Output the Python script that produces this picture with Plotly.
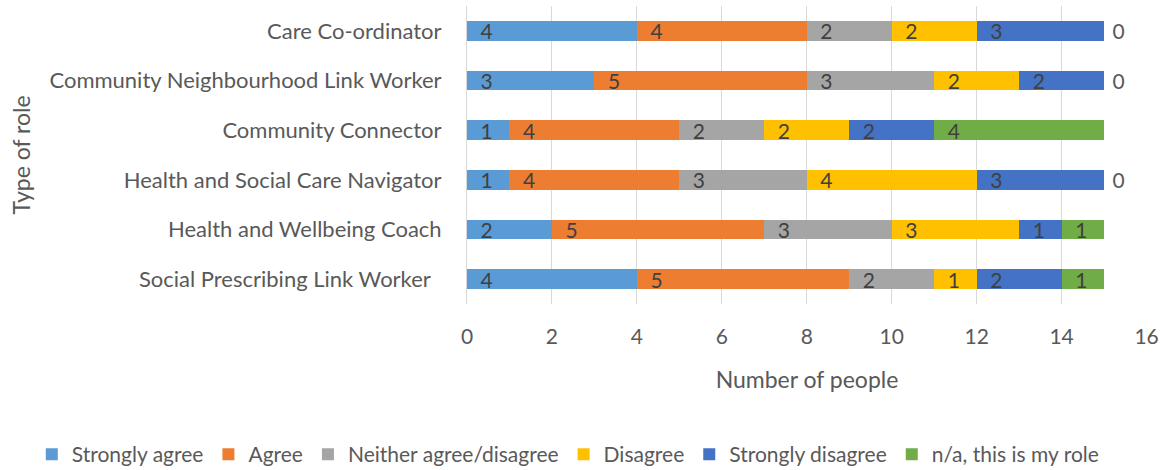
import plotly.graph_objects as go

roles = [
    "Care Co-ordinator",
    "Community Neighbourhood Link Worker",
    "Community Connector",
    "Health and Social Care Navigator",
    "Health and Wellbeing Coach",
    "Social Prescribing Link Worker\u00a0\u00a0",
]
strongly_agree = [4, 3, 1, 1, 2, 4]
agree = [4, 5, 4, 4, 5, 5]
neither = [2, 3, 2, 3, 3, 2]
disagree = [2, 2, 2, 4, 3, 1]
strongly_disagree = [3, 2, 2, 3, 1, 2]
na_my_role = [0, 0, 4, 0, 1, 1]

series = [
    ("Strongly agree", strongly_agree, "#5B9BD5"),
    ("Agree", agree, "#ED7D31"),
    ("Neither agree/disagree", neither, "#A5A5A5"),
    ("Disagree", disagree, "#FFC000"),
    ("Strongly disagree", strongly_disagree, "#4472C4"),
    ("n/a, this is my role", na_my_role, "#70AD47"),
]

FONT = "Lato"
fig = go.Figure()
for name, vals, color in series:
    pos = ["inside" if v > 0 else "outside" for v in vals]
    tmpl = ["\u2002%{x}" if v > 0 else "\u00a0%{x}" for v in vals]
    fig.add_trace(go.Bar(
        y=roles, x=vals, name=name, orientation="h",
        marker=dict(color=color, line=dict(width=0)),
        texttemplate=tmpl, textposition=pos,
        insidetextanchor="start", textangle=0,
        textfont=dict(family=FONT, size=21, color="#404040"),
        outsidetextfont=dict(family=FONT, size=21, color="#595959"),
        constraintext="none", cliponaxis=False,
        hoverinfo="x+y+name",
    ))

fig.update_layout(
    barmode="stack",
    bargap=0.6,
    width=1163, height=470,
    margin=dict(l=467, r=16, t=6, b=166, autoexpand=False),
    plot_bgcolor="white", paper_bgcolor="white",
    font=dict(family=FONT, color="#595959"),
    xaxis=dict(
        range=[0, 16.01], dtick=2, tick0=0, automargin=False,
        showgrid=True, gridcolor="#D9D9D9", gridwidth=1,
        zeroline=False, showline=False,
        tickfont=dict(family=FONT, size=21, color="#595959"),
        ticklabelstandoff=18, ticklabeloverflow="allow",
        title=dict(text="Number of people", font=dict(family=FONT, size=23, color="#595959"), standoff=24),
    ),
    yaxis=dict(
        categoryorder="array", categoryarray=roles,
        autorange="reversed", automargin=False,
        showgrid=False, zeroline=False,
        showline=True, linecolor="#D9D9D9", linewidth=1,
        tickfont=dict(family=FONT, size=22, color="#595959"),
        ticklabelstandoff=20,
        title=dict(text="Type of role", font=dict(family=FONT, size=23, color="#595959"), standoff=12),
    ),
    legend=dict(
        orientation="h", xref="paper", yref="paper",
        x=-0.64, xanchor="left", y=-0.505, yanchor="middle",
        font=dict(family=FONT, size=21, color="#595959"),
        traceorder="normal", itemwidth=30,
    ),
    showlegend=True,
)

fig.write_html("out.html", config={"displayModeBar": False},
               post_script="document.body.style.margin='0';document.body.style.padding='0';")
